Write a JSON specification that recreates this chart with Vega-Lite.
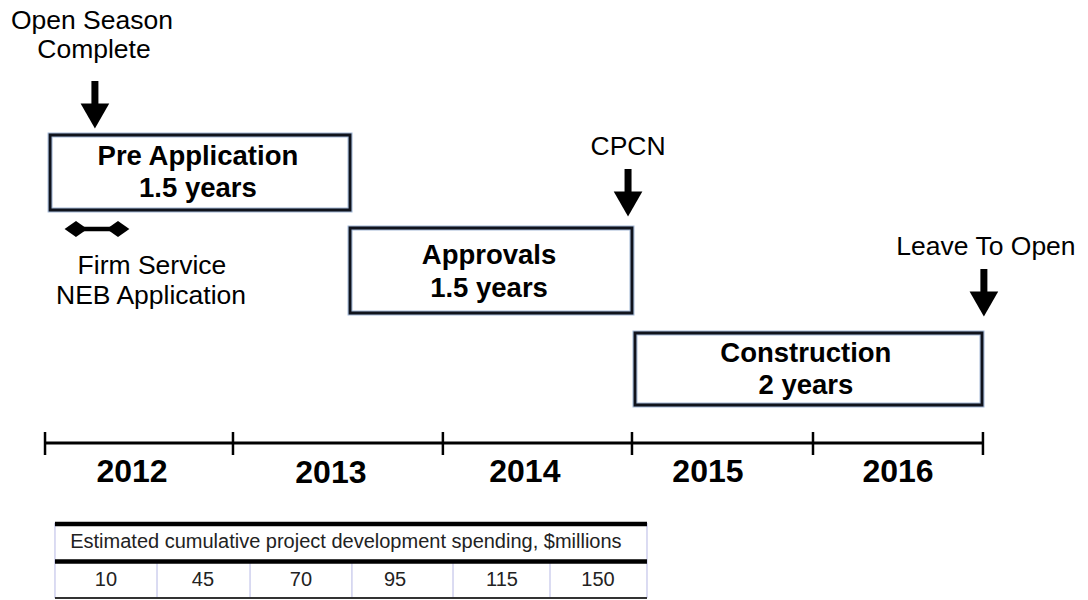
{
  "$schema": "https://vega.github.io/schema/vega-lite/v6.json",
  "width": 1088,
  "height": 600,
  "padding": 0,
  "autosize": {"type": "fit", "contains": "padding"},
  "background": "white",
  "config": {"view": {"stroke": null}, "text": {"font": "Liberation Sans"}},
  "encoding": {
    "x": {"field": "x", "type": "quantitative", "scale": {"domain": [2011.76, 2017.56], "nice": false, "zero": false}, "axis": null},
    "y": {"field": "y", "type": "quantitative", "scale": {"domain": [0, 600], "reverse": true, "nice": false, "zero": false}, "axis": null}
  },
  "layer": [
    {
      "data": {"values": [
        {"x": 2012.027, "x2": 2013.626, "y": 135, "y2": 210},
        {"x": 2013.626, "x2": 2015.129, "y": 228, "y2": 313},
        {"x": 2015.145, "x2": 2016.995, "y": 333, "y2": 405}
      ]},
      "mark": {"type": "rect", "fill": "white", "stroke": "#a3b8d6", "strokeWidth": 5},
      "encoding": {"x2": {"field": "x2"}, "y2": {"field": "y2"}}
    },
    {
      "data": {"values": [
        {"x": 2012.027, "x2": 2013.626, "y": 135, "y2": 210},
        {"x": 2013.626, "x2": 2015.129, "y": 228, "y2": 313},
        {"x": 2015.145, "x2": 2016.995, "y": 333, "y2": 405}
      ]},
      "mark": {"type": "rect", "fill": null, "fillOpacity": 0, "stroke": "#10131c", "strokeWidth": 2.8},
      "encoding": {"x2": {"field": "x2"}, "y2": {"field": "y2"}}
    },
    {
      "data": {"values": [
        {"text": "Pre Application", "x": 2012.815, "y": 157},
        {"text": "1.5 years", "x": 2012.815, "y": 189},
        {"text": "Approvals", "x": 2014.367, "y": 256},
        {"text": "1.5 years", "x": 2014.367, "y": 289},
        {"text": "Construction", "x": 2016.056, "y": 354},
        {"text": "2 years", "x": 2016.056, "y": 386}
      ]},
      "mark": {"type": "text", "fontSize": 27.5, "fontWeight": "bold", "color": "#000", "align": "center", "baseline": "middle"},
      "encoding": {"text": {"field": "text"}}
    },
    {
      "data": {"values": [{"x": 2012.0, "x2": 2017.0, "y": 443}]},
      "mark": {"type": "rule", "color": "#000", "strokeWidth": 3},
      "encoding": {"x2": {"field": "x2"}}
    },
    {
      "data": {"values": [
        {"x": 2012.0, "y": 432, "y2": 455},
        {"x": 2013.002, "y": 432, "y2": 455},
        {"x": 2014.121, "y": 432, "y2": 455},
        {"x": 2015.129, "y": 432, "y2": 455},
        {"x": 2016.094, "y": 432, "y2": 455},
        {"x": 2017.0, "y": 432, "y2": 455}
      ]},
      "mark": {"type": "rule", "color": "#000", "strokeWidth": 2.5},
      "encoding": {"y2": {"field": "y2"}}
    },
    {
      "data": {"values": [
        {"text": "2012", "x": 2012.464, "y": 472},
        {"text": "2013", "x": 2013.524, "y": 473},
        {"text": "2014", "x": 2014.558, "y": 472},
        {"text": "2015", "x": 2015.534, "y": 472},
        {"text": "2016", "x": 2016.547, "y": 472}
      ]},
      "mark": {"type": "text", "fontSize": 32, "fontWeight": "bold", "color": "#000", "align": "center", "baseline": "middle"},
      "encoding": {"text": {"field": "text"}}
    },
    {
      "data": {"values": [
        {"x": 2012.266, "y": 81, "y2": 110},
        {"x": 2015.108, "y": 169, "y2": 198},
        {"x": 2017.005, "y": 269, "y2": 298}
      ]},
      "mark": {"type": "rule", "color": "#000", "strokeWidth": 7},
      "encoding": {"y2": {"field": "y2"}}
    },
    {
      "data": {"values": [
        {"x": 2012.266, "y": 116},
        {"x": 2015.108, "y": 204},
        {"x": 2017.005, "y": 304}
      ]},
      "mark": {"type": "point", "shape": "triangle-down", "filled": true, "size": 820, "color": "#000", "opacity": 1, "strokeWidth": 0},
      "encoding": {}
    },
    {
      "data": {"values": [
        {"text": "Open Season", "x": 2012.25, "y": 21},
        {"text": "Complete", "x": 2012.261, "y": 50},
        {"text": "CPCN", "x": 2015.108, "y": 147},
        {"text": "Leave To Open", "x": 2017.016, "y": 247},
        {"text": "Firm Service", "x": 2012.57, "y": 266},
        {"text": "NEB Application", "x": 2012.565, "y": 296}
      ]},
      "mark": {"type": "text", "fontSize": 26.5, "color": "#000", "align": "center", "baseline": "middle"},
      "encoding": {"text": {"field": "text"}}
    },
    {
      "data": {"values": [{"x": 2012.165, "x2": 2012.389, "y": 229}]},
      "mark": {"type": "rule", "color": "#000", "strokeWidth": 4.5},
      "encoding": {"x2": {"field": "x2"}}
    },
    {
      "data": {"values": [{"x": 2012.165, "y": 229}, {"x": 2012.389, "y": 229}]},
      "mark": {"type": "point", "shape": "M-1,0L0,-0.7L1,0L0,0.7Z", "filled": true, "size": 520, "color": "#000", "opacity": 1, "strokeWidth": 0},
      "encoding": {}
    },
    {
      "data": {"values": [
        {"x": 2012.053, "y": 523, "y2": 598},
        {"x": 2015.209, "y": 523, "y2": 598},
        {"x": 2012.597, "y": 562, "y2": 598},
        {"x": 2013.093, "y": 562, "y2": 598},
        {"x": 2013.636, "y": 562, "y2": 598},
        {"x": 2014.175, "y": 562, "y2": 598},
        {"x": 2014.692, "y": 562, "y2": 598}
      ]},
      "mark": {"type": "rule", "color": "#cfd0ee", "strokeWidth": 1.5},
      "encoding": {"y2": {"field": "y2"}}
    },
    {
      "data": {"values": [
        {"x": 2012.053, "x2": 2015.209, "y": 524},
        {"x": 2012.053, "x2": 2015.209, "y": 561.5}
      ]},
      "mark": {"type": "rule", "color": "#000", "strokeWidth": 4.5},
      "encoding": {"x2": {"field": "x2"}}
    },
    {
      "data": {"values": [{"x": 2012.053, "x2": 2015.209, "y": 598}]},
      "mark": {"type": "rule", "color": "#333", "strokeWidth": 2},
      "encoding": {"x2": {"field": "x2"}}
    },
    {
      "data": {"values": [
        {"text": "Estimated cumulative project development spending, $millions", "x": 2013.604, "y": 542},
        {"text": "10", "x": 2012.325, "y": 580},
        {"text": "45", "x": 2012.842, "y": 580},
        {"text": "70", "x": 2013.364, "y": 580},
        {"text": "95", "x": 2013.866, "y": 580},
        {"text": "115", "x": 2014.436, "y": 580},
        {"text": "150", "x": 2014.948, "y": 580}
      ]},
      "mark": {"type": "text", "fontSize": 20, "color": "#222", "align": "center", "baseline": "middle"},
      "encoding": {"text": {"field": "text"}}
    }
  ]
}
